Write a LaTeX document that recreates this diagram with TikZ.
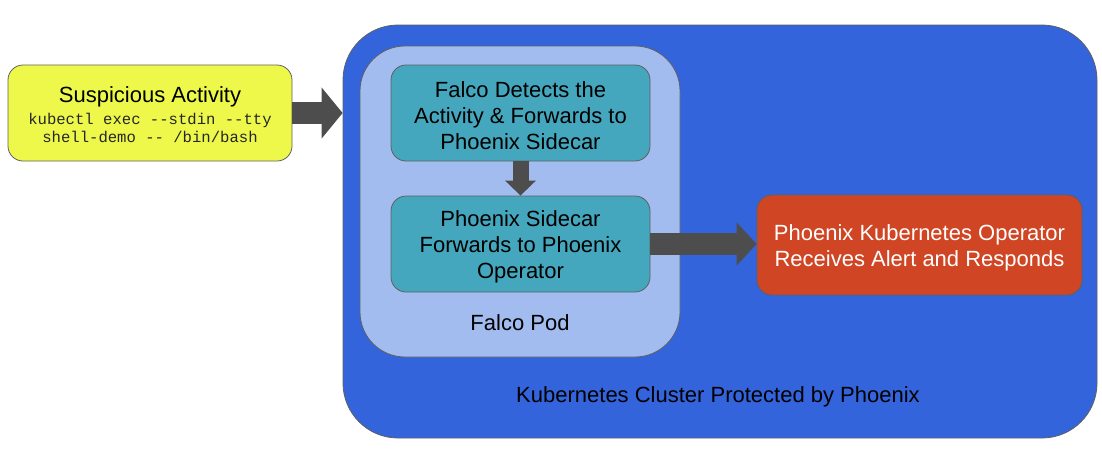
\documentclass[tikz,border=0pt]{standalone}
\usepackage{fontspec}
\setmainfont{Liberation Sans}
\newfontfamily\monofnt{Liberation Mono}
\usetikzlibrary{arrows.meta}
\definecolor{yel}{HTML}{EEF84A}
\definecolor{kblue}{HTML}{3464DC}
\definecolor{podblue}{HTML}{A2BCF0}
\definecolor{teal}{HTML}{45A7BD}
\definecolor{kred}{HTML}{D04523}
\definecolor{bord}{HTML}{5F5F5F}
\definecolor{arr}{HTML}{4D4D4D}
\newcommand\lowerfirst{\rule{0pt}{21pt}}
\tikzset{
  box/.style={draw=bord, line width=0.8pt, rounded corners=15pt, inner sep=0pt, align=center, font=\fontsize{22}{26}\selectfont},
  bigarrow/.style={draw=arr, line width=22pt, -{Triangle[length=21pt,width=50pt]}},
  lbl/.style={inner sep=0pt, font=\fontsize{22}{26}\selectfont}
}
\begin{document}
\begin{tikzpicture}[x=1pt,y=-1pt]
\useasboundingbox (0,0) rectangle (1102,467);
\node[box, fill=kblue, rounded corners=55pt, minimum width=754pt, minimum height=413pt] (cluster) at (720,231.5) {};
\node[box, fill=podblue, rounded corners=45pt, minimum width=320pt, minimum height=311pt] (pod) at (520,201.5) {};
\node[box, fill=yel, minimum width=284pt, minimum height=96pt] (susp) at (150,113) {};
\node[lbl] (susptitle) at (150,97) {Suspicious Activity};
\node[inner sep=0pt, align=center, text=black!85, font=\monofnt\fontsize{15.6}{18}\selectfont] (cmd) at (150,128) {kubectl exec --stdin --tty\\shell-demo -- /bin/bash};
\node[box, fill=teal, minimum width=259pt, minimum height=96pt] (detect) at (520.5,113) {\lowerfirst Falco Detects the\\Activity \& Forwards to\\Phoenix Sidecar};
\node[box, fill=teal, minimum width=259pt, minimum height=96pt] (sidecar) at (520.5,244) {\lowerfirst Phoenix Sidecar\\Forwards to Phoenix\\Operator};
\node[box, fill=kred, text=white, minimum width=325pt, minimum height=100pt] (operator) at (919.5,245) {\lowerfirst Phoenix Kubernetes Operator\\Receives Alert and Responds};
\node[lbl] (podlbl) at (520,323) {Falco Pod};
\node[lbl] (clusterlbl) at (718,397) {Kubernetes Cluster Protected by Phoenix};
\draw[bigarrow] (susp.east) -- (susp.east -| cluster.west);
\draw[draw=arr, line width=16pt, -{Triangle[length=15pt,width=30pt]}] (detect.south) -- (sidecar.north);
\draw[bigarrow, -{Triangle[length=20pt,width=42pt]}] (sidecar.east) -- (sidecar.east -| operator.west);
\end{tikzpicture}
\end{document}
